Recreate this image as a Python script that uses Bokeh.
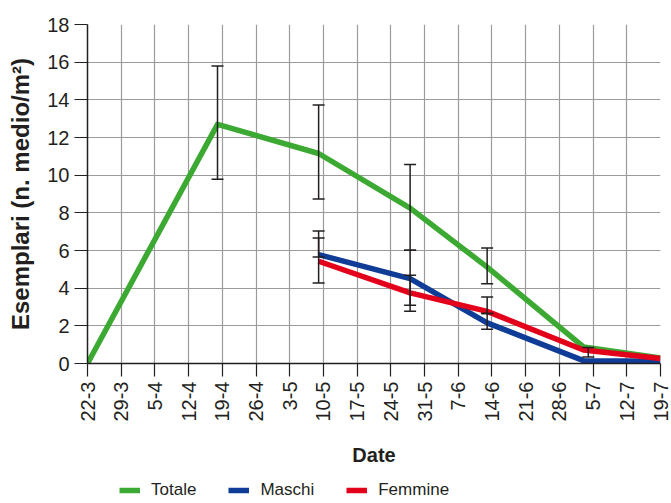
import math
from bokeh.plotting import figure
from bokeh.layouts import column
from bokeh.models import (ColumnDataSource, Whisker, TeeHead, FixedTicker,
                          Legend, LegendItem, Range1d)
from bokeh.embed import file_html
from bokeh.resources import INLINE

# ---- data -------------------------------------------------------------
# x values are days counted from 22 March
date_labels = ["22-3", "29-3", "5-4", "12-4", "19-4", "26-4", "3-5", "10-5",
               "17-5", "24-5", "31-5", "7-6", "14-6", "21-6", "28-6", "5-7",
               "12-7", "19-7"]
tick_days = [0, 7, 14, 21, 28, 35, 42, 49, 56, 63, 70, 77, 84, 91, 98, 105,
             112, 119]
y_ticks = [0, 2, 4, 6, 8, 10, 12, 14, 16, 18]

totale_days = [0, 27, 48, 67, 83, 103, 119]
totale = [0.0, 12.7, 11.15, 8.25, 5.12, 0.88, 0.3]

sex_days = [48, 67, 83, 103, 119]
maschi = [5.78, 4.51, 2.16, 0.15, 0.12]
femmine = [5.43, 3.75, 2.77, 0.72, 0.27]

# error bars (lower / upper limits)
totale_err_days = [27, 48, 67, 83]
totale_low = [9.78, 8.73, 6.01, 4.24]
totale_high = [15.8, 13.72, 10.57, 6.13]

maschi_err_days = [48, 67, 83]
maschi_low = [5.66, 3.09, 1.82]
maschi_high = [7.04, 6.01, 2.65]

femmine_err_days = [48, 67, 83, 104]
femmine_low = [4.28, 2.77, 2.65, 0.35]
femmine_high = [6.66, 4.68, 3.53, 0.85]

series_names = ["Totale", "Maschi", "Femmine"]
series_colors = ["#3CAA32", "#0F3C96", "#E3001B"]

# ---- main figure ------------------------------------------------------
TXT = "#231F20"
REG = "'Liberation Sans', Arial, sans-serif"
LW = 5.5

p = figure(width=671, height=470, output_backend="svg", toolbar_location=None,
           x_range=Range1d(0, 119), y_range=Range1d(0, 18),
           min_border_left=87, min_border_right=11, min_border_top=24,
           min_border_bottom=107)
p.outline_line_color = None
p.background_fill_color = "white"
p.border_fill_color = "white"

# grid
for g in (p.xgrid, p.ygrid):
    g.grid_line_color = "#9b9b9b"
    g.grid_line_width = 1.2
p.xgrid.ticker = FixedTicker(ticks=tick_days)
p.ygrid.ticker = FixedTicker(ticks=y_ticks)

# axes
p.xaxis.ticker = FixedTicker(ticks=tick_days)
p.xaxis.major_label_overrides = {d: lab for d, lab in zip(tick_days, date_labels)}
p.xaxis.major_label_orientation = math.pi / 2
p.yaxis.ticker = FixedTicker(ticks=y_ticks)

for ax in (p.xaxis[0], p.yaxis[0]):
    ax.axis_line_color = TXT
    ax.axis_line_width = 1.5
    ax.major_tick_line_color = TXT
    ax.major_tick_line_width = 1.2
    ax.major_tick_out = 13
    ax.major_tick_in = 0
    ax.minor_tick_line_color = None
    ax.major_label_text_font = REG
    ax.major_label_text_font_size = "20px"
    ax.major_label_text_color = TXT
    ax.major_label_standoff = 5
    ax.axis_label_text_color = TXT
    ax.axis_label_text_font_style = "bold"

p.xaxis.axis_label = "Date"
p.xaxis.axis_label_text_font = REG
p.xaxis.axis_label_text_font_size = "20px"
p.xaxis.axis_label_standoff = 19

p.yaxis.axis_label = "Esemplari (n. medio/m²)"
p.yaxis.axis_label_text_font = REG
p.yaxis.axis_label_text_font_size = "24px"
p.yaxis.axis_label_standoff = 10

# lines
p.line(totale_days, totale, line_width=LW, color=series_colors[0],
       line_join="round")
p.line(sex_days, maschi, line_width=LW, color=series_colors[1],
       line_join="round")
p.line(sex_days, femmine, line_width=LW, color=series_colors[2],
       line_join="round")

# error bars
for days, lo, hi in ((totale_err_days, totale_low, totale_high),
                     (maschi_err_days, maschi_low, maschi_high),
                     (femmine_err_days, femmine_low, femmine_high)):
    src = ColumnDataSource(dict(x=days, lo=lo, hi=hi))
    w = Whisker(source=src, base="x", lower="lo", upper="hi",
                line_color=TXT, line_width=1.5, level="annotation",
                upper_head=TeeHead(size=12, line_color=TXT, line_width=1.5),
                lower_head=TeeHead(size=12, line_color=TXT, line_width=1.5))
    p.add_layout(w)

# ---- legend strip below the chart ------------------------------------
lf = figure(width=671, height=33, output_backend="svg", toolbar_location=None,
            x_range=Range1d(0, 1), y_range=Range1d(0, 1),
            min_border=0, min_border_left=0, min_border_right=0,
            min_border_top=0, min_border_bottom=0)
lf.xaxis.visible = False
lf.yaxis.visible = False
lf.xgrid.visible = False
lf.ygrid.visible = False
lf.outline_line_color = None

items = []
for name, col in zip(series_names, series_colors):
    # legend-only proxy line, kept outside the visible range
    r = lf.line(x=[5, 6], y=[5, 6], line_width=LW, color=col)
    items.append(LegendItem(label=name, renderers=[r]))

legend = Legend(items=items, orientation="horizontal", location=(32, 3),
                border_line_color=None, background_fill_alpha=0,
                padding=0, margin=0, spacing=32, glyph_width=21,
                glyph_height=20, label_standoff=11,
                label_text_font=REG, label_text_font_size="17px",
                label_text_color=TXT)
lf.add_layout(legend)

layout = column(p, lf, spacing=0)
open("out.html", "w").write(file_html(layout, INLINE))
